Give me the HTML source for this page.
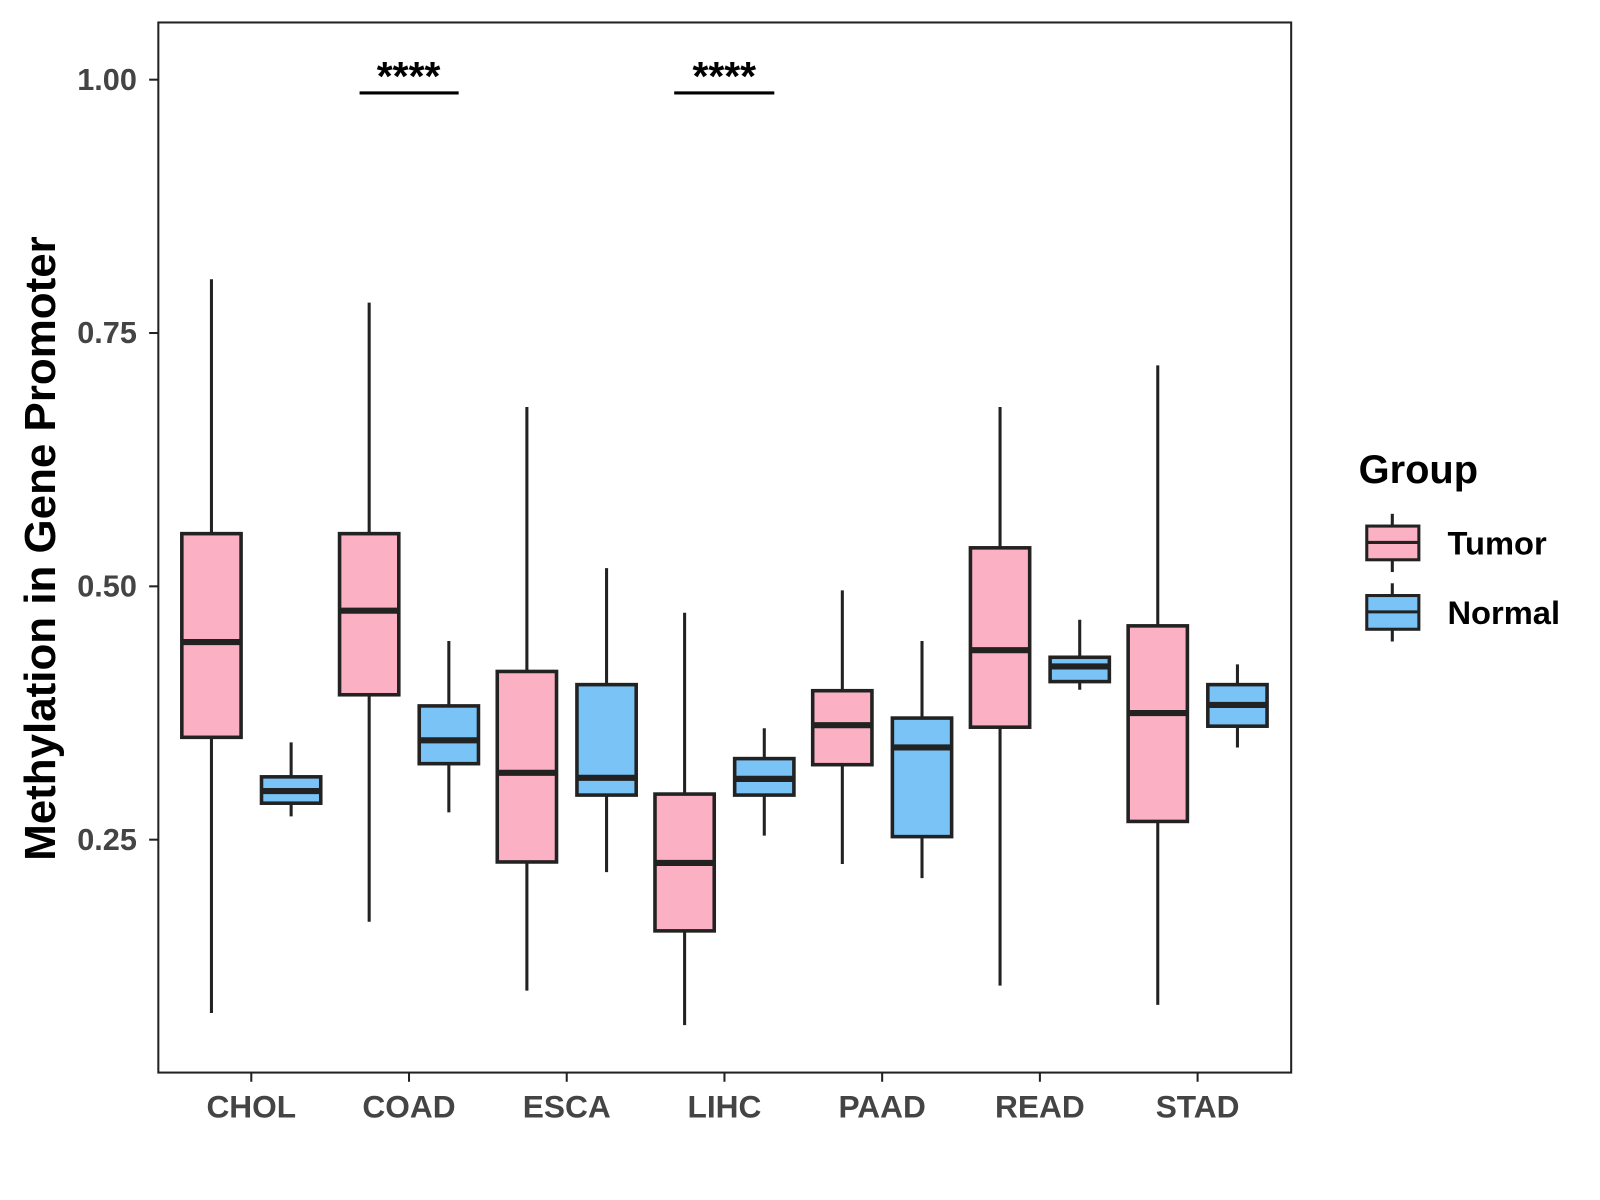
<!DOCTYPE html>
<html><head><meta charset="utf-8"><style>
html,body{margin:0;padding:0;background:#fff;}
svg{display:block;font-family:"Liberation Sans",Arial,sans-serif;}
</style></head><body>
<svg id="chart" width="1600" height="1200" viewBox="0 0 1600 1200">
<g transform="scale(1.0215)">
<rect x="155" y="22" width="1109" height="1028" fill="#fff" stroke="#222" stroke-width="2"/>
<g id="ticks"></g>
<g id="xaxis"></g>
<g id="boxes"></g>
<text transform="translate(54,537) rotate(-90)" text-anchor="middle" font-size="43" font-weight="bold" fill="#000">Methylation in Gene Promoter</text>
<g>
<line x1="352" y1="91" x2="449" y2="91" stroke="#000" stroke-width="3"/>
<text x="400" y="88" text-anchor="middle" font-size="40" font-weight="bold">****</text>
</g>
<g>
<line x1="660" y1="91" x2="758" y2="91" stroke="#000" stroke-width="3"/>
<text x="709" y="88" text-anchor="middle" font-size="40" font-weight="bold">****</text>
</g>
<g>
<text x="1330" y="473" font-size="39" font-weight="bold">Group</text>
<g>
<line x1="1363" y1="503" x2="1363" y2="560" stroke="#222" stroke-width="3"/>
<rect x="1338" y="515" width="51" height="33" fill="#FBB1C3" stroke="#222" stroke-width="3"/>
<line x1="1338" y1="531" x2="1389" y2="531" stroke="#222" stroke-width="3"/>
<text x="1417" y="543" font-size="32" font-weight="bold">Tumor</text>
</g>
<g>
<line x1="1363" y1="571" x2="1363" y2="628" stroke="#222" stroke-width="3"/>
<rect x="1338" y="583" width="51" height="33" fill="#7AC3F7" stroke="#222" stroke-width="3"/>
<line x1="1338" y1="599" x2="1389" y2="599" stroke="#222" stroke-width="3"/>
<text x="1417" y="611" font-size="32" font-weight="bold">Normal</text>
</g>
</g>
</g>
</svg>
<script>
const categories=["CHOL","COAD","ESCA","LIHC","PAAD","READ","STAD"];
const tumorStats=[[0.079,0.351,0.445,0.552,0.803],[0.169,0.393,0.476,0.552,0.780],[0.101,0.228,0.316,0.416,0.677],[0.067,0.160,0.227,0.295,0.474],[0.226,0.324,0.363,0.397,0.496],[0.106,0.361,0.437,0.538,0.677],[0.087,0.268,0.375,0.461,0.718]];
const normalStats=[[0.273,0.286,0.298,0.312,0.346],[0.277,0.325,0.348,0.382,0.446],[0.218,0.294,0.311,0.403,0.518],[0.254,0.294,0.310,0.330,0.360],[0.212,0.253,0.341,0.370,0.446],[0.398,0.406,0.421,0.430,0.467],[0.341,0.362,0.383,0.403,0.423]];
const yTicks=[0.25,0.5,0.75,1.0];
const yTickLabels=["0.25","0.50","0.75","1.00"];
const NS="http://www.w3.org/2000/svg";
function yScale(v){return 78+(1-v)*992;}
function xScale(i){return 246+i*154.4;}
function mk(tag,attrs,parent){const e=document.createElementNS(NS,tag);for(const k in attrs)e.setAttribute(k,attrs[k]);parent.appendChild(e);return e;}
const tg=document.getElementById('ticks');
yTicks.forEach((t,i)=>{
 const y=yScale(t);
 const l=mk('line',{x1:146,x2:155,y1:y,y2:y,stroke:'#222','stroke-width':2},tg);
 
 
 const tx=mk('text',{x:134,y:y+10,'text-anchor':'end','font-size':30,'font-weight':'bold',fill:'#444'},tg);
 tx.textContent=yTickLabels[i];
 
 
});
const xg=document.getElementById('xaxis');
categories.forEach((c,i)=>{
 const x=xScale(i);
 const l=mk('line',{x1:x,x2:x,y1:1050,y2:1059,stroke:'#222','stroke-width':2},xg);
 
 
 const tx=mk('text',{x:x,y:1094,'text-anchor':'middle','font-size':31,'font-weight':'bold',fill:'#444'},xg);
 tx.textContent=c;
 
 
});
const bg=document.getElementById('boxes');
function drawBox(cx,s,fill,name){
 const g=mk('g',{},bg);
 
 
 mk('line',{x1:cx,x2:cx,y1:yScale(s[4]),y2:yScale(s[0]),stroke:'#222','stroke-width':3},g);
 mk('rect',{x:cx-29,y:yScale(s[3]),width:58,height:yScale(s[1])-yScale(s[3]),fill:fill,stroke:'#222','stroke-width':3.5},g);
 mk('line',{x1:cx-29,x2:cx+29,y1:yScale(s[2]),y2:yScale(s[2]),stroke:'#222','stroke-width':6},g);
}
categories.forEach((c,i)=>{
 drawBox(xScale(i)-39,tumorStats[i],'#FBB1C3','box-tumor-'+c.toLowerCase());
 drawBox(xScale(i)+39,normalStats[i],'#7AC3F7','box-normal-'+c.toLowerCase());
});
</script>
</body></html>
